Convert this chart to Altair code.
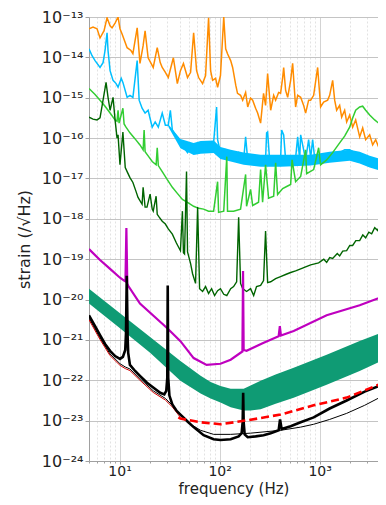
import altair as alt
import numpy as np
import pandas as pd

# ---------------- data (frequency in Hz, strain as log10) -------------
orange_f = [4.95, 5.43, 5.96, 6.38, 7.0, 7.5, 8.04, 8.41, 9.02, 9.66, 10.1, 10.6, 11.9, 13.0, 13.6, 15.0,
            16.0, 17.2, 18.0, 19.3, 21.7, 23.8, 25.5, 26.7, 28.7, 30.7, 34.5, 37.8, 40.6, 43.5, 47.8, 51.3,
            55.0, 58.9, 61.7, 67.6, 72.4, 77.6, 81.3, 85.1, 91.2, 95.5, 102, 110, 115, 120, 129, 135, 145,
            151, 162, 170, 182, 191, 204, 214, 229, 240, 257, 275, 288, 302, 324, 347, 363, 389, 407, 427,
            437, 457, 479, 513, 537, 575, 603, 646, 692, 724, 776, 813, 871, 955, 1023, 1096, 1202, 1259,
            1349, 1413, 1479, 1585, 1660, 1778, 1862, 1995, 2138, 2291, 2512, 2692, 2884, 3162, 3388, 3631,
            3981, 4266, 4571]
orange_log = [-13.29, -13.25, -13.29, -13.52, -13.34, -13.02, -13.22, -13.27, -13.15, -13.0, -13.29, -13.42,
              -13.76, -13.83, -13.91, -13.27, -14.15, -13.71, -13.34, -14.01, -14.25, -13.76, -14.13, -14.25,
              -14.37, -14.50, -14.01, -14.65, -14.33, -14.15, -14.50, -14.37, -13.39, -14.33, -14.50, -14.65,
              -14.45, -13.02, -14.33, -14.57, -14.52, -14.74, -14.45, -13.0, -13.79, -13.91, -14.08, -14.25,
              -14.69, -14.89, -14.94, -15.06, -14.87, -15.23, -15.01, -15.06, -15.26, -15.38, -15.63, -14.89,
              -15.19, -14.40, -15.31, -14.94, -15.06, -14.87, -14.89, -14.50, -14.25, -14.82, -14.99, -14.57,
              -14.15, -15.23, -14.94, -14.99, -15.19, -15.38, -15.06, -15.06, -14.94, -14.25, -15.23, -15.11,
              -15.06, -14.94, -14.57, -15.06, -15.31, -15.19, -15.48, -15.31, -15.60, -15.43, -15.73, -15.55,
              -15.97, -15.75, -16.04, -15.92, -16.17, -16.04, -16.29, -16.17, -16.36]

blue_f = [4.95, 5.31, 5.69, 6.38, 6.84, 7.16, 7.5, 7.67, 8.04, 8.61, 9.23, 9.66, 10.4, 10.8, 11.9, 12.7,
          13.6, 15.0, 15.7, 16.8, 18.0, 19.3, 21.2, 22.7, 24.4, 26.7, 28.7, 30.7, 32.2, 33.7, 36.1, 38.7,
          42.5, 45.6, 47.8, 51.3, 55.0, 60.3, 64.6, 72.4, 81.3, 87.1, 93.3, 95.5, 102, 115, 129, 145, 155,
          162, 174, 182, 191, 214, 234, 257, 288, 295, 302, 316, 363, 407, 417, 437, 457, 513, 575, 603,
          631, 646, 724, 776, 813, 851, 891, 1023, 1175, 1259, 1413, 1585, 1778, 1995, 2239, 2512, 2818,
          3162, 3548, 3981, 4571]
blue_log = [-13.79, -13.96, -14.08, -14.25, -14.13, -13.83, -13.39, -13.83, -14.33, -14.57, -14.65, -14.74,
            -14.52, -14.62, -14.99, -14.94, -14.99, -14.08, -15.06, -15.26, -15.38, -15.31, -15.73, -15.60,
            -15.73, -15.38, -15.68, -15.68, -15.31, -15.80, -15.92, -16.04, -16.22, -16.29, -16.36, -16.24,
            -16.29, -16.12, -16.17, -16.17, -16.12, -16.12, -15.23, -16.04, -16.36, -16.29, -16.41, -16.46,
            -16.36, -16.54, -16.54, -15.97, -16.54, -16.46, -16.54, -16.61, -16.54, -15.87, -15.85, -16.54,
            -16.58, -16.54, -15.80, -15.92, -16.54, -16.54, -16.49, -15.97, -16.54, -15.92, -16.54, -16.04,
            -16.49, -16.04, -16.49, -16.49, -16.46, -16.41, -16.36, -16.36, -16.29, -16.29, -16.36, -16.41,
            -16.49, -16.54, -16.58, -16.66, -16.71]
# envelope of the dense blue noise at higher frequencies
blue_band_f = [30.7, 40.6, 55.0, 64.6, 87.1, 102, 129, 174, 257, 407, 813, 1259, 1995, 2512, 3162, 4571]
blue_band_hi = [-15.66, -16.02, -16.12, -16.07, -16.06, -16.22, -16.29, -16.36, -16.41, -16.41, -16.41,
                -16.34, -16.29, -16.34, -16.44, -16.56]
blue_band_lo = [-15.72, -16.25, -16.42, -16.39, -16.37, -16.52, -16.58, -16.66, -16.71, -16.71, -16.68,
                -16.61, -16.56, -16.63, -16.73, -16.85]

lgreen_f = [4.95, 5.69, 6.38, 7.16, 8.04, 9.02, 9.44, 9.66, 9.89, 10.8, 11.1, 11.6, 12.7, 14.3, 16.0, 17.2,
            17.6, 18.0, 19.3, 21.2, 23.2, 23.8, 24.4, 26.7, 30.0, 33.7, 37.8, 42.5, 47.8, 55.0, 61.7, 69.2,
            77.6, 87.1, 95.5, 97.7, 110, 118, 120, 138, 162, 182, 186, 204, 214, 245, 257, 269, 288, 309,
            347, 363, 380, 427, 468, 513, 530, 575, 646, 724, 741, 871, 977, 1023, 1175, 1349, 1585, 1778,
            1995, 2138, 2291, 2512, 2692, 2884, 3162, 3548, 3981, 4169, 4266, 4571]
lgreen_log = [-14.77, -14.92, -15.06, -15.21, -15.38, -15.55, -15.58, -15.31, -15.63, -15.26, -15.65, -15.73,
              -15.87, -16.02, -16.17, -16.29, -15.80, -16.34, -16.44, -16.58, -16.66, -16.24, -16.68, -16.83,
              -17.03, -17.22, -17.37, -17.52, -17.59, -17.69, -17.74, -17.76, -17.81, -17.81, -17.08, -17.84,
              -17.81, -16.46, -17.81, -17.81, -17.76, -16.90, -17.69, -17.27, -17.67, -17.59, -16.78, -17.59,
              -16.66, -17.49, -17.44, -16.61, -17.40, -17.25, -17.20, -17.15, -16.54, -17.08, -16.95, -16.29,
              -16.88, -16.78, -16.24, -16.66, -16.54, -16.36, -16.12, -15.95, -15.73, -15.50, -15.31, -15.23,
              -15.21, -15.31, -15.43, -15.55, -15.65, -15.19, -15.65, -15.23]

dgreen_f = [4.95, 5.43, 5.96, 6.38, 6.84, 7.33, 7.67, 8.04, 8.61, 9.02, 9.44, 9.66, 10.1, 10.8, 11.4, 11.9,
            12.7, 13.6, 14.6, 15.3, 16.8, 17.2, 18.0, 18.8, 20.2, 21.2, 21.7, 23.2, 23.8, 24.9, 26.7, 28.7,
            30.7, 33.7, 37.0, 40.6, 42.5, 43.5, 44.6, 46.7, 47.8, 51.3, 53.7, 57.5, 60.3, 63.1, 67.6, 72.4,
            77.6, 83.2, 89.1, 95.5, 102, 110, 118, 129, 138, 148, 155, 162, 170, 186, 204, 219, 234, 257, 275,
            288, 302, 324, 363, 407, 457, 513, 575, 646, 724, 813, 977, 1100, 1175, 1260, 1349, 1500, 1585,
            1700, 1862, 2000, 2138, 2300, 2512, 2700, 2884, 3100, 3311, 3550, 3802, 4000, 4266, 4571]
dgreen_log = [-15.48, -15.53, -15.55, -15.50, -15.06, -14.62, -14.99, -15.31, -14.99, -15.55, -16.0, -15.92,
              -16.66, -15.85, -16.73, -16.83, -16.98, -17.10, -17.32, -17.47, -17.64, -17.22, -17.71, -17.71,
              -17.39, -17.76, -17.81, -17.44, -17.89, -17.96, -18.06, -18.13, -18.25, -18.38, -18.60, -18.79,
              -17.81, -18.84, -18.87, -16.83, -18.82, -19.11, -19.36, -19.60, -17.71, -19.73, -19.80, -19.68,
              -19.85, -19.73, -19.90, -19.78, -19.73, -19.87, -19.90, -19.73, -19.68, -19.56, -17.96, -19.60,
              -19.73, -19.80, -19.73, -19.90, -19.68, -19.65, -19.53, -18.30, -19.58, -19.56, -19.48, -19.43,
              -19.38, -19.33, -19.29, -19.24, -19.19, -19.14, -19.09, -19.00, -19.08, -18.96, -18.98, -18.86,
              -18.92, -18.80, -18.79, -18.66, -18.66, -18.54, -18.54, -18.40, -18.47, -18.33, -18.37, -18.22,
              -18.29, -18.15, -18.22, -18.13]

magenta_f = [4.95, 6.38, 8.04, 10.1, 11.1, 11.45, 11.7, 11.95, 12.2, 16.0, 30.0, 40.6, 55.0, 74.1, 102,
             129, 166, 169, 171.5, 174, 186, 269, 389, 400, 410, 550, 1175, 2512, 4571]
magenta_log = [-18.75, -19.02, -19.24, -19.46, -19.53, -19.55, -18.23, -19.60, -19.66, -20.10, -20.71,
               -21.03, -21.45, -21.62, -21.59, -21.49, -21.30, -21.29, -19.29, -21.25, -21.27, -21.08,
               -20.91, -20.66, -20.89, -20.78, -20.39, -20.14, -19.90]

band_f = [4.95, 10.1, 20.2, 40.6, 64.6, 81.3, 102, 129, 174, 204, 257, 363, 550, 1175, 2512, 4571]
band_hi = [-19.73, -20.34, -20.93, -21.52, -21.89, -22.04, -22.14, -22.21, -22.21, -22.13, -22.01, -21.86,
           -21.69, -21.37, -21.03, -20.78]
band_lo = [-20.10, -20.71, -21.32, -22.01, -22.33, -22.45, -22.55, -22.67, -22.75, -22.75, -22.72, -22.58,
           -22.43, -22.11, -21.77, -21.47]

black_f = [4.95, 5.69, 6.38, 7.16, 8.04, 9.02, 10.1, 10.8, 11.4, 11.6, 11.8, 12.05, 12.2, 12.7, 14.3, 16.0,
           18.8, 21.7, 25.5, 28.0, 29.3, 30.0, 30.3, 30.65, 31.5, 33.7, 37.0, 40.6, 47.8, 55.0, 69.2, 87.1,
           102, 129, 155, 166, 170, 172, 174, 178, 191, 229, 275, 324, 389, 402, 417, 513, 646, 871, 1259,
           1862, 2818, 4571]
black_log = [-20.39, -20.66, -20.88, -21.10, -21.27, -21.40, -21.47, -21.42, -21.25, -20.83, -19.41, -20.95,
             -21.32, -21.62, -21.77, -21.89, -22.06, -22.18, -22.31, -22.35, -22.26, -21.94, -19.65, -21.94,
             -22.38, -22.60, -22.75, -22.85, -23.02, -23.16, -23.36, -23.46, -23.48, -23.46, -23.39, -23.31,
             -23.04, -22.31, -23.04, -23.34, -23.41, -23.39, -23.36, -23.31, -23.24, -22.97, -23.21, -23.14,
             -23.04, -22.92, -22.70, -22.50, -22.28, -22.08]

thin_f = [4.95, 6.38, 8.04, 10.1, 11.4, 12.7, 16.0, 21.7, 28.7, 33.7, 40.6, 51.3, 64.6, 87.1, 129, 204, 407,
          646, 871, 1259, 1862, 2818, 4571]
thin_log = [-20.46, -20.95, -21.35, -21.59, -21.67, -21.72, -21.96, -22.26, -22.45, -22.62, -22.87, -23.09,
            -23.24, -23.34, -23.34, -23.31, -23.24, -23.16, -23.09, -22.97, -22.82, -22.62, -22.35]

redlow_f = [4.95, 6.38, 8.04, 10.1, 11.4, 12.7, 16.0, 21.7, 28.7, 33.7, 40.6]
redlow_log = [-20.50, -20.99, -21.39, -21.63, -21.71, -21.76, -22.00, -22.30, -22.49, -22.66, -22.92]

red_f = [38.7, 40.6, 64.6, 102, 191, 407, 871, 1862, 4571]
red_log = [-22.92, -22.95, -23.04, -23.09, -22.99, -22.85, -22.62, -22.43, -22.04]

y_tick_values = [1e-13, 1e-14, 1e-15, 1e-16, 1e-17, 1e-18, 1e-19, 1e-20, 1e-21, 1e-22, 1e-23, 1e-24]
y_tick_labels = ["10⁻¹³", "10⁻¹⁴", "10⁻¹⁵", "10⁻¹⁶", "10⁻¹⁷", "10⁻¹⁸", "10⁻¹⁹", "10⁻²⁰", "10⁻²¹",
                 "10⁻²²", "10⁻²³", "10⁻²⁴"]
x_tick_values = [5, 6, 7, 8, 9, 10, 20, 30, 40, 50, 60, 70, 80, 90, 100, 200, 300, 400, 500, 600, 700, 800,
                 900, 1000, 2000, 3000]
x_tick_labels = ["10¹", "10²", "10³"]

# ---------------- build tables ----------------
def line_df(f, logs):
    return pd.DataFrame({"f": f, "s": np.power(10.0, np.array(logs, dtype=float))})

def band_df(f, hi, lo):
    return pd.DataFrame({"f": f, "hi": np.power(10.0, np.array(hi, dtype=float)),
                         "lo": np.power(10.0, np.array(lo, dtype=float))})

LOG = "(log(datum.value)/LN10)"
MAJOR = f"abs({LOG} - round({LOG})) < 0.001"

# the visible part of the frequency axis (the original figure is cut at the right)
xscale = alt.Scale(type="log", domain=[4.95, 3830], nice=False)
yscale = alt.Scale(type="log", domain=[1e-24, 1e-13], nice=False)

x_labels_js = "[" + ",".join(f"'{t}'" for t in x_tick_labels) + "]"
y_labels_js = "[" + ",".join(f"'{t}'" for t in y_tick_labels) + "]"

xaxis = alt.Axis(
    values=x_tick_values,
    title="frequency (Hz)",
    labelExpr=f"{MAJOR} ? {x_labels_js}[round({LOG}) - 1] : ''",
    grid=True,
    gridColor={"condition": {"test": MAJOR, "value": "#c4c4c4"}, "value": "#e2e2e2"},
    gridDash={"condition": {"test": MAJOR, "value": [1, 0]}, "value": [2, 2]},
    tickSize={"condition": {"test": MAJOR, "value": 3}, "value": 2},
    labelPadding=0,
    labelFontSize=14,
    titleFontSize=15,
    titleY=32,
    titleBaseline="alphabetic",
    labelFlush=False,
)
yaxis = alt.Axis(
    values=y_tick_values,
    title="strain (/√Hz)",
    labelExpr=f"{y_labels_js}[-13 - round({LOG})]",
    grid=True,
    gridColor="#c4c4c4",
    tickSize=4,
    labelPadding=2,
    titlePadding=9,
    labelFlush=False,
)

X = alt.X("f:Q", scale=xscale, axis=xaxis)
Y = alt.Y("s:Q", scale=yscale, axis=yaxis)


def line(f, logs, color, width, dash=None):
    kw = dict(color=color, strokeWidth=width, clip=True, interpolate="linear")
    if dash is not None:
        kw["strokeDash"] = dash
    return alt.Chart(line_df(f, logs)).mark_line(**kw).encode(x=X, y=Y)


def band(f, hi, lo, color, opacity=1.0):
    return alt.Chart(band_df(f, hi, lo)).mark_area(color=color, opacity=opacity, clip=True).encode(
        x=X, y=alt.Y("hi:Q", scale=yscale, axis=yaxis), y2="lo:Q")


chart = alt.layer(
    line(orange_f, orange_log, "#ff8c00", 1.5),
    band(blue_band_f, blue_band_hi, blue_band_lo, "#00bfff"),
    line(blue_f, blue_log, "#00bfff", 1.5),
    line(lgreen_f, lgreen_log, "#32cd32", 1.5),
    line(dgreen_f, dgreen_log, "#006400", 1.4),
    line(magenta_f, magenta_log, "#bf00bf", 2.2),
    band(band_f, band_hi, band_lo, "#0f9b74"),
    line(thin_f, thin_log, "#000000", 1.0),
    line(redlow_f, redlow_log, "#d00000", 1.0),
    line(black_f, black_log, "#000000", 2.6),
    line(red_f, red_log, "#ff0000", 2.6, dash=[8, 4]),
).properties(
    width=289,
    height=444,
    autosize=alt.AutoSizeParams(type="none"),
    padding={"left": 81, "top": 9, "right": 0, "bottom": 36},
).configure_axis(
    labelFont="DejaVu Sans",
    titleFont="DejaVu Sans",
    labelFontSize=16,
    titleFontSize=16,
    titleFontWeight="normal",
    labelColor="#222222",
    titleColor="#222222",
    domainColor="#a0a0a0",
    tickColor="#a0a0a0",
).configure_view(stroke=None)

chart.save("out.html", embed_options={"renderer": "svg", "actions": False})
